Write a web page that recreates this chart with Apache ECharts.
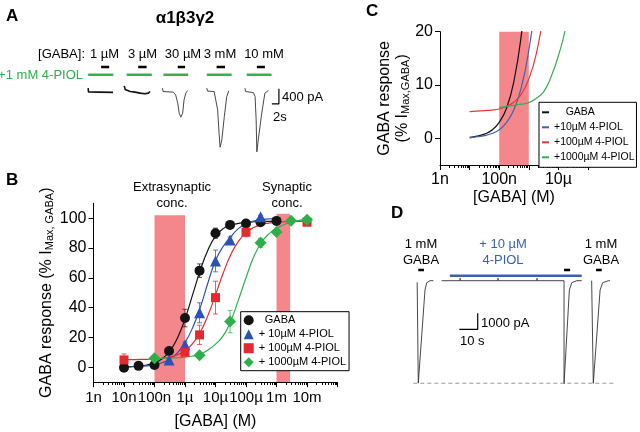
<!DOCTYPE html>
<html><head><meta charset="utf-8">
<script src="https://cdn.jsdelivr.net/npm/echarts@6/dist/echarts.min.js"></script>
<style>html,body{margin:0;padding:0;background:#fff}#c{width:640px;height:432px}</style>
</head><body><div id="c"></div>
<script>
// ---------- Panel B : concentration-response data ----------
const gabaConc   = [1e-8,3e-8,1e-7,3e-7,1e-6,3e-6,1e-5,3e-5,1e-4,3e-4,1e-3];
const gabaResp   = [-0.3,0.9,1.5,10.9,33.0,64.8,89.9,95.5,96.5,97.3,98.2];
const gabaErr    = [0.8,0.8,0.8,2.0,5.9,4.5,3.4,1.2,1.0,1.0,1.0];
const piol10Conc = [3e-7,1e-6,3e-6,1e-5,3e-5,3e-4];
const piol10Resp = [4.9,15.0,36.5,71.3,85.4,101.0];
const piol10Err  = [1.0,2.0,6.7,7.3,2.0,1.0];
const piol100Conc = [1e-8,1e-6,3e-6,1e-5,1e-4,1e-2];
const piol100Resp = [4.9,10.0,21.7,46.7,90.6,97.3];
const piol100Err  = [4.0,1.5,6.5,11.0,3.0,1.0];
const piol1000Conc = [1e-7,3e-6,3e-5,3e-4,1e-3,3e-3,1e-2];
const piol1000Resp = [6.0,8.0,30.6,83.5,90.8,98.3,99.0];
const piol1000Err  = [1.0,1.0,7.5,3.0,1.5,1.0,1.0];

// fitted curves at quarter decades (10 nM .. 10 mM)
const fitConc = [1e-8,1.78e-8,3.16e-8,5.62e-8,1e-7,1.78e-7,3.16e-7,5.62e-7,1e-6,1.78e-6,3.16e-6,5.62e-6,
                 1e-5,1.78e-5,3.16e-5,5.62e-5,1e-4,1.78e-4,3.16e-4,5.62e-4,1e-3,1.78e-3,3.16e-3,5.62e-3,1e-2];
const gabaFit    = [0.2,0.4,0.8,1.5,3.0,5.7,10.8,19.5,32.4,48.7,65.0,78.5,88.0,93.0,95.3,96.5,97.2,97.6,97.8,97.9,98.0,null,null,null,null];
const piol10Fit  = [0.1,0.3,0.5,0.9,1.6,3.0,5.4,9.6,16.5,26.5,40.0,56.5,71.5,81.0,87.5,93.0,96.2,98.0,99.0,99.5,99.8,null,null,null,null];
const piol100Fit = [5.0,5.1,5.2,5.3,5.5,6.0,6.8,8.3,11.1,15.8,23.5,34.6,48.6,63.0,75.5,84.5,90.3,93.7,95.7,96.7,97.3,97.6,97.8,97.9,98.0];
const piol1000Fit= [null,null,null,null,5.8,6.0,6.2,6.4,6.7,7.5,8.7,11.5,15.5,21.0,31.0,45.0,60.0,74.0,83.5,89.5,93.0,95.8,97.6,98.5,99.0];

const extraBand = [1e-7, 1e-6];
const synBand   = [1e-3, 2.8e-3];

const bTickLabels = ['1n','10n','100n','1µ','10µ','100µ','1m','10m',''];
const cTickLabels = ['1n','','100n','','10µ',''];
const bYTicks = [0,20,40,60,80,100];
const cYTicks = [0,10,20];
const bDecades = [1e-9,1e-8,1e-7,1e-6,1e-5,1e-4,1e-3,1e-2];
const cDecades = [1e-9,1e-8,1e-7,1e-6,1e-5];
const minorSteps = [2,3,4,5,6,7,8,9];

// ---------- Panel A : current traces (s, pA) ----------
const traceA1 = [[0.9,20],[1.0,-85],[4,-88],[8,-95],[8.1,-80]];
const traceA2 = [[11.2,80],[11.5,-20],[11.9,-30],[12.9,-72],[14.3,-88],[15.7,-115],[17.1,-133],[18.1,-115],[18.6,-72]];
const traceA3 = [[22.1,19],[22.3,-72],[25.2,-88],[25.9,-160],[26.5,-382],[26.9,-649],[27.4,-756],[27.9,-649],[28.3,-294],[28.8,-115],[29.3,-45]];
const traceA4 = [[34.8,19],[35.0,-60],[36.9,-72],[37.4,-115],[37.9,-561],[38.3,-1183],[38.6,-1557],[39.1,-1362],[39.8,-740],[40.5,-206],[41.1,-53]];
const traceA5 = [[45.7,19],[45.9,-72],[48.1,-99],[48.6,-206],[48.9,-828],[49.1,-1682],[49.5,-1362],[50.5,-649],[51.4,-115],[52.4,-45]];
const gabaBarsA = [[4.6,6.9],[15.2,17.6],[26.5,28.6],[37.6,40.0],[49.1,51.4]];
const piolBarsA = [[0.9,8.1],[11.9,19.1],[22.4,29.5],[34.8,41.9],[46.2,53.3]];
const concLabelsA = ['1 µM','3 µM','30 µM','3 mM','10 mM'];
const scaleA = [[53.4,-400],[55.4,-400],[55.4,0]];

// ---------- Panel D : current traces (s, pA) ----------
const traceD1 = [[3.9,-100],[4.1,0],[4.5,0],[4.5,-6400],[4.9,-6380],[8.15,-580],[9.1,-125],[10.9,0],[12.7,0]];
const traceD2 = [[17.2,0],[27.2,0],[27.2,150],[27.4,0],[47.8,0],[47.8,150],[48.0,0],[69.0,0],[69.0,150],[69.2,0],
                 [83.7,0],[83.7,-6450],[84.2,-6410],[86.6,-580],[87.9,-125],[90.6,0],[93.3,0]];
const traceD3 = [[98.7,0],[99.6,0],[99.6,-6410],[100.2,-6410],[103.3,-580],[104.7,-125],[107.8,0],[108.7,0]];
const gabaBarsD = [[4.5,7.6],[83.7,87.0],[101.1,104.2]];
const piolBarD  = [[21.7,93.3]];
const peakD = -6410;
const peakSpanD = [1.8,110.5];
const scaleD = [[26.8,-3040],[36.8,-3040],[36.8,-2040]];

// ---------- chart ----------
const FONT = '"Liberation Sans", Arial, sans-serif';
const BLACK='#141414', BLUE='#2B52B4', RED='#E42A2F', GREEN='#2DB04B', BAND='#F4878C';
const CBLUE='#4262A8', CRED='#E8383C', CGREEN='#3BAA55', DBLUE='#3A62AA';

const chart = echarts.init(document.getElementById('c'), null, {renderer:'canvas', width:640, height:432});

function pairs(xs, ys){ return xs.map((x,i)=>[x, ys[i]]); }
function triples(xs, ys, es){ return xs.map((x,i)=>[x, ys[i], es[i]]); }
function fitPairs(ys){ return fitConc.map((x,i)=>[x, ys[i]]).filter(p=>p[1]!=null); }
function minorTickData(decades, yBase){
  const out=[]; decades.forEach(d=>minorSteps.forEach(m=>out.push([d*m, yBase]))); return out;
}
function errRender(color){
  return function(params, api){
    const x=api.value(0), y=api.value(1), e=api.value(2);
    const hi=api.coord([x,y+e]), lo=api.coord([x,y-e]);
    const w=2.5, st={stroke:color,lineWidth:1,opacity:0.75};
    return {type:'group',children:[
      {type:'line',shape:{x1:hi[0],y1:hi[1],x2:lo[0],y2:lo[1]},style:st},
      {type:'line',shape:{x1:hi[0]-w,y1:hi[1],x2:hi[0]+w,y2:hi[1]},style:st},
      {type:'line',shape:{x1:lo[0]-w,y1:lo[1],x2:lo[0]+w,y2:lo[1]},style:st}
    ]};
  };
}
function minorRender(params, api){
  const p=api.coord([api.value(0), api.value(1)]);
  const x=Math.round(p[0])+0.5, y=Math.round(p[1]);
  return {type:'line', shape:{x1:x,y1:y,x2:x,y2:y+3}, style:{stroke:'#000', lineWidth:1}};
}
function lineS(xi, data, color, width, extra){
  return Object.assign({type:'line', xAxisIndex:xi, yAxisIndex:xi, data:data, symbol:'none', silent:true,
    lineStyle:{color:color, width:width}, itemStyle:{color:color}, animation:false}, extra||{});
}

const series = [];
// Panel A
[traceA1, traceA2].forEach(t=>series.push(lineS(0, t, '#111', 1.6)));
[traceA3, traceA4, traceA5].forEach(t=>series.push(lineS(0, t, '#333', 0.9)));
gabaBarsA.forEach(b=>series.push(lineS(0, [[b[0],580],[b[1],580]], '#000', 2.5)));
piolBarsA.forEach(b=>series.push(lineS(0, [[b[0],374],[b[1],374]], '#37B150', 2.5)));
series.push(lineS(0, scaleA, '#000', 1.2));

// Panel B
const bGroups = [
  {name:'GABA', c:gabaConc, r:gabaResp, e:gabaErr, f:gabaFit, color:BLACK, sym:'circle', size:10},
  {name:'+ 10µM 4-PIOL', c:piol10Conc, r:piol10Resp, e:piol10Err, f:piol10Fit, color:BLUE, sym:'triangle', size:11},
  {name:'+ 100µM 4-PIOL', c:piol100Conc, r:piol100Resp, e:piol100Err, f:piol100Fit, color:RED, sym:'rect', size:9},
  {name:'+ 1000µM 4-PIOL', c:piol1000Conc, r:piol1000Resp, e:piol1000Err, f:piol1000Fit, color:GREEN, sym:'diamond', size:12}
];
bGroups.forEach((g,gi)=>{
  series.push({type:'custom', name:g.name+' err', xAxisIndex:1, yAxisIndex:1, silent:true, animation:false,
    renderItem:errRender(g.color), data:triples(g.c,g.r,g.e), encode:{x:0,y:1}});
  const fit = lineS(1, fitPairs(g.f), g.color, 1.2, {name:g.name+' fit', smooth:0.5});
  if (gi===0){
    fit.markArea = {silent:true, itemStyle:{color:BAND, opacity:1}, data:[
      [{xAxis:extraBand[0], yAxis:-10},{xAxis:extraBand[1], yAxis:102}],
      [{xAxis:synBand[0], yAxis:-10},{xAxis:synBand[1], yAxis:103}]
    ]};
  }
  series.push(fit);
});
bGroups.forEach(g=>{
  series.push({type:'scatter', name:g.name, xAxisIndex:1, yAxisIndex:1, data:pairs(g.c,g.r), symbol:g.sym,
    symbolSize:g.size, itemStyle:{color:g.color, opacity:1}, silent:true, animation:false, z:3});
});
series.push({type:'custom', name:'minorB', xAxisIndex:1, yAxisIndex:1, silent:true, animation:false, clip:false,
  renderItem:minorRender, data:minorTickData(bDecades,-10), encode:{x:0,y:1}});

// Panel C
const cGroups = [
  {name:'C GABA', label:'    GABA', f:gabaFit, color:'#111'},
  {name:'C 10', label:'+10µM 4-PIOL', f:piol10Fit, color:CBLUE},
  {name:'C 100', label:'+100µM 4-PIOL', f:piol100Fit, color:CRED},
  {name:'C 1000', label:'+1000µM 4-PIOL', f:piol1000Fit, color:CGREEN}
];
cGroups.forEach((g,gi)=>{
  const s = lineS(2, fitPairs(g.f), g.color, 1.2, {name:g.name, smooth:0.5, clip:true});
  if (gi===0){
    s.markArea = {silent:true, itemStyle:{color:BAND, opacity:1}, data:[
      [{xAxis:extraBand[0], yAxis:-5},{xAxis:extraBand[1], yAxis:20}]
    ]};
  }
  series.push(s);
});
series.push({type:'custom', name:'minorC', xAxisIndex:2, yAxisIndex:2, silent:true, animation:false, clip:false,
  renderItem:minorRender, data:minorTickData(cDecades,-5), encode:{x:0,y:1}});

// Panel D
[traceD1, traceD2, traceD3].forEach(t=>series.push(lineS(3, t, '#333', 0.9)));
gabaBarsD.forEach(b=>series.push(lineS(3, [[b[0],670],[b[1],670]], '#000', 2.5)));
piolBarD.forEach(b=>series.push(lineS(3, [[b[0],312],[b[1],312]], DBLUE, 2.5)));
series.push(lineS(3, [[peakSpanD[0],peakD],[peakSpanD[1],peakD]], '#9a9a9a', 1, {lineStyle:{color:'#9a9a9a', width:1, type:[4,3]}}));
series.push(lineS(3, scaleD, '#000', 1.2));

const axisFont = {fontFamily:FONT, color:'#000'};
const subRich = {sub:{fontSize:11, fontFamily:FONT, color:'#000', verticalAlign:'bottom', padding:[7,0,0,0]}};

const option = {
  backgroundColor:'#fff',
  animation:false,
  grid:[
    {left:85, top:60, width:210, height:100},
    {left:93.5, top:203.3, width:244, height:178.8},
    {left:440, top:31.7, width:148, height:133.3},
    {left:410, top:264.7, width:209.8, height:128}
  ],
  xAxis:[
    {gridIndex:0, type:'value', min:0, max:60, show:false},
    {gridIndex:1, type:'log', logBase:10, min:1e-9, max:1e-1,
      axisLine:{onZero:false, lineStyle:{color:'#000', width:1}},
      axisTick:{length:5, lineStyle:{color:'#000'}},
      splitLine:{show:false},
      axisLabel:Object.assign({fontSize:15, margin:8, formatter:v=>bTickLabels[Math.round(Math.log10(v))+9]||''}, axisFont),
      name:'[GABA] (M)', nameLocation:'middle', nameGap:31, nameTextStyle:Object.assign({fontSize:16}, axisFont)},
    {gridIndex:2, type:'log', logBase:10, min:1e-9, max:1e-4,
      axisLine:{onZero:false, lineStyle:{color:'#000', width:1}},
      axisTick:{length:5, lineStyle:{color:'#000'}},
      splitLine:{show:false},
      axisLabel:Object.assign({fontSize:16, margin:7, formatter:v=>cTickLabels[Math.round(Math.log10(v))+9]||''}, axisFont),
      name:'[GABA] (M)', nameLocation:'middle', nameGap:25, nameTextStyle:Object.assign({fontSize:16}, axisFont)},
    {gridIndex:3, type:'value', min:0, max:114, show:false}
  ],
  yAxis:[
    {gridIndex:0, type:'value', min:-1900, max:770, show:false},
    {gridIndex:1, type:'value', min:-10, max:110,
      axisLine:{show:true, onZero:false, lineStyle:{color:'#000', width:1}},
      axisTick:{show:true, length:5, customValues:bYTicks, lineStyle:{color:'#000'}},
      axisLabel:Object.assign({fontSize:16, margin:7, customValues:bYTicks}, axisFont),
      splitLine:{show:false},
      name:'GABA response (% I{sub|Max, GABA})', nameLocation:'middle', nameGap:32, nameRotate:90,
      nameTextStyle:Object.assign({fontSize:16, rich:subRich}, axisFont)},
    {gridIndex:2, type:'value', min:-5, max:20,
      axisLine:{show:true, onZero:false, lineStyle:{color:'#000', width:1}},
      axisTick:{show:true, length:5, customValues:cYTicks, lineStyle:{color:'#000'}},
      axisLabel:Object.assign({fontSize:16, margin:7, customValues:cYTicks}, axisFont),
      splitLine:{show:false},
      name:'GABA response\n(% I{sub|Max,GABA})', nameLocation:'middle', nameGap:20, nameRotate:90,
      nameTextStyle:Object.assign({fontSize:16, lineHeight:18, rich:subRich}, axisFont)},
    {gridIndex:3, type:'value', min:-7000, max:1000, show:false}
  ],
  legend:[
    {data:[{name:'GABA',icon:'circle'},{name:'+ 10µM 4-PIOL',icon:'triangle'},{name:'+ 100µM 4-PIOL',icon:'rect'},{name:'+ 1000µM 4-PIOL',icon:'diamond'}],
     left:240.7, top:311.7, orient:'vertical', selectedMode:false, borderColor:'#000', borderWidth:1, borderRadius:0,
     backgroundColor:'#fff', padding:[3,3,3,3], itemWidth:10, itemHeight:10, itemGap:3,
     formatter:n=>n==='GABA'?'  GABA':n, textStyle:{fontSize:11, fontFamily:FONT, color:'#000'}},
    {data:cGroups.map(g=>({name:g.name, icon:'rect'})),
     left:539, top:102.3, orient:'vertical', selectedMode:false, borderColor:'#000', borderWidth:1, borderRadius:0,
     backgroundColor:'#fff', padding:[3,2,3,3], itemWidth:7, itemHeight:2, itemGap:1,
     formatter:n=>{const g=cGroups.find(q=>q.name===n); return g?g.label:n;},
     textStyle:{fontSize:10.5, fontFamily:FONT, color:'#000', lineHeight:14}}
  ],
  graphic:[
    {type:'text', left:6, top:8, style:{text:'A', font:'bold 17px '+FONT, fill:'#000'}},
    {type:'text', x:185, y:18, style:{text:'α1β3γ2', font:'bold 17px '+FONT, fill:'#000', textAlign:'center', textVerticalAlign:'middle'}},
    {type:'text', x:85, y:54, style:{text:'[GABA]:', font:'13px '+FONT, fill:'#000', textAlign:'right', textVerticalAlign:'middle'}},
    ...concLabelsA.map((t,i)=>({type:'text', x:[104.5,142.5,183,220,264][i], y:54, style:{text:t, font:'13px '+FONT, fill:'#000', textAlign:'center', textVerticalAlign:'middle'}})),
    {type:'text', x:83, y:75, style:{text:'+1 mM 4-PIOL', font:'13px '+FONT, fill:'#2FAE4E', textAlign:'right', textVerticalAlign:'middle'}},
    {type:'text', x:282, y:97, style:{text:'400 pA', font:'13px '+FONT, fill:'#000', textVerticalAlign:'middle'}},
    {type:'text', x:273, y:117, style:{text:'2s', font:'13px '+FONT, fill:'#000', textVerticalAlign:'middle'}},
    {type:'text', left:6, top:172, style:{text:'B', font:'bold 17px '+FONT, fill:'#000'}},
    {type:'text', x:172, y:187, style:{text:'Extrasynaptic', font:'13px '+FONT, fill:'#000', textAlign:'center', textVerticalAlign:'middle'}},
    {type:'text', x:172, y:203, style:{text:'conc.', font:'13px '+FONT, fill:'#000', textAlign:'center', textVerticalAlign:'middle'}},
    {type:'text', x:287, y:187, style:{text:'Synaptic', font:'13px '+FONT, fill:'#000', textAlign:'center', textVerticalAlign:'middle'}},
    {type:'text', x:287, y:203, style:{text:'conc.', font:'13px '+FONT, fill:'#000', textAlign:'center', textVerticalAlign:'middle'}},
    {type:'text', left:366, top:3, style:{text:'C', font:'bold 17px '+FONT, fill:'#000'}},
    {type:'text', left:391, top:205, style:{text:'D', font:'bold 17px '+FONT, fill:'#000'}},
    {type:'text', x:421, y:244, style:{text:'1 mM', font:'13px '+FONT, fill:'#000', textAlign:'center', textVerticalAlign:'middle'}},
    {type:'text', x:421, y:260, style:{text:'GABA', font:'13px '+FONT, fill:'#000', textAlign:'center', textVerticalAlign:'middle'}},
    {type:'text', x:503, y:244, style:{text:'+ 10 µM', font:'13px '+FONT, fill:DBLUE, textAlign:'center', textVerticalAlign:'middle'}},
    {type:'text', x:503, y:260, style:{text:'4-PIOL', font:'13px '+FONT, fill:DBLUE, textAlign:'center', textVerticalAlign:'middle'}},
    {type:'text', x:601, y:244, style:{text:'1 mM', font:'13px '+FONT, fill:'#000', textAlign:'center', textVerticalAlign:'middle'}},
    {type:'text', x:601, y:260, style:{text:'GABA', font:'13px '+FONT, fill:'#000', textAlign:'center', textVerticalAlign:'middle'}},
    {type:'text', x:481, y:323, style:{text:'1000 pA', font:'13px '+FONT, fill:'#000', textVerticalAlign:'middle'}},
    {type:'text', x:460, y:341, style:{text:'10 s', font:'13px '+FONT, fill:'#000', textVerticalAlign:'middle'}}
  ],
  series:series
};
chart.setOption(option);
</script>
</body></html>
